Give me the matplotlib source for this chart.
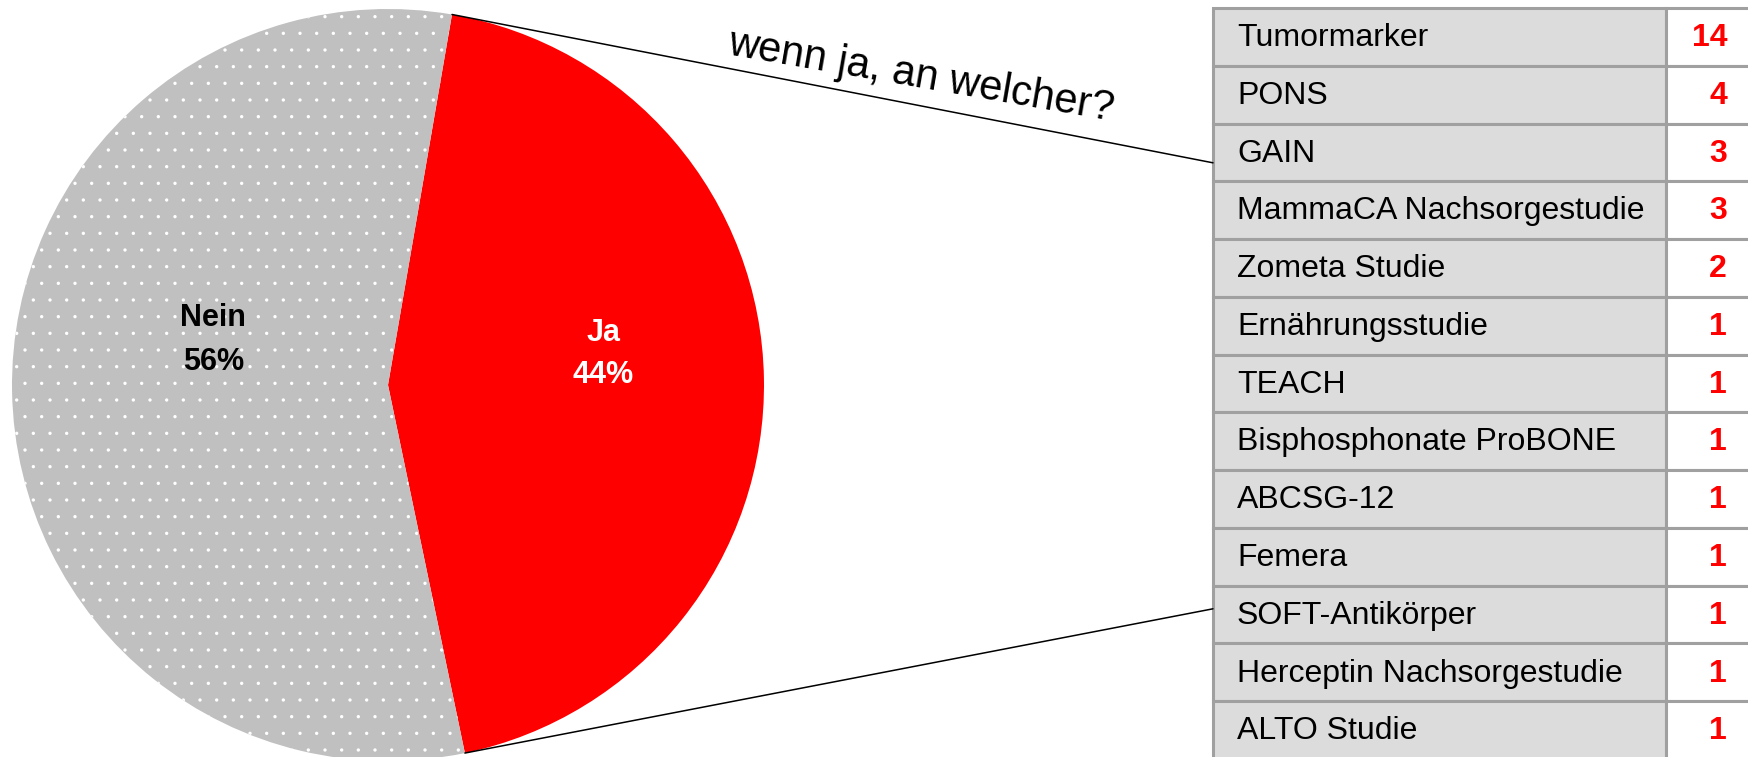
import matplotlib
matplotlib.use("Agg")
import matplotlib.pyplot as plt
import numpy as np
from matplotlib.patches import Rectangle, ConnectionPatch

plt.rcParams["font.family"] = ["Liberation Sans", "DejaVu Sans"]
plt.rcParams["hatch.linewidth"] = 0.0

# pie: share of respondents taking part in a study
pie_labels = ["Ja", "Nein"]
pie_values = [44, 56]
pie_colors = ["#FF0000", "#C0C0C0"]

# breakdown for "Ja"
studies = [
    "Tumormarker", "PONS", "GAIN", "MammaCA Nachsorgestudie", "Zometa Studie",
    "Ernährungsstudie", "TEACH", "Bisphosphonate ProBONE", "ABCSG-12", "Femera",
    "SOFT-Antikörper", "Herceptin Nachsorgestudie", "ALTO Studie",
]
counts = [14, 4, 3, 3, 2, 1, 1, 1, 1, 1, 1, 1, 1]

W, H = 1748, 757
fig = plt.figure(figsize=(W / 100, H / 100), dpi=100)

# --- pie -------------------------------------------------------------
cx, cy, r = 388, 385, 376
ax = fig.add_axes([(cx - r) / W, (H - cy - r) / H, 2 * r / W, 2 * r / H])
wedges, _ = ax.pie(pie_values, colors=pie_colors, startangle=80.2,
                   counterclock=False, radius=1.0,
                   wedgeprops=dict(linewidth=0))
wedges[1].set_hatch(".")
wedges[1].set_edgecolor("white")
wedges[1].set_linewidth(0)
ax.set_xlim(-1, 1)
ax.set_ylim(-1, 1)
ax.set_aspect("equal")
ax.axis("off")

ax.text(0.572, 0.082, f"{pie_labels[0]}\n{pie_values[0]}%", color="white",
        fontsize=22, fontweight="bold", ha="center", va="center", linespacing=1.55)
ax.text(-0.465, 0.12, f"{pie_labels[1]}\n{pie_values[1]}%", color="black",
        fontsize=22, fontweight="bold", ha="center", va="center", linespacing=1.6)

# --- table -----------------------------------------------------------
tx0, ty0, tx1, ty1 = 1213, 8, 1752, 759
tax = fig.add_axes([tx0 / W, (H - ty1) / H, (tx1 - tx0) / W, (ty1 - ty0) / H])
n = len(studies)
label_w = 453
tax.set_xlim(0, tx1 - tx0)
tax.set_ylim(n, 0)
tax.axis("off")

border = "#A0A0A0"
for i, (name, c) in enumerate(zip(studies, counts)):
    tax.add_patch(Rectangle((0, i), label_w, 1, facecolor="#DCDCDC",
                            edgecolor=border, linewidth=2.2, clip_on=False))
    tax.add_patch(Rectangle((label_w, i), tx1 - tx0 - label_w, 1, facecolor="white",
                            edgecolor=border, linewidth=2.2, clip_on=False))
    tax.text(24, i + 0.52, name, fontsize=23, ha="left", va="center", color="black")
    tax.text(514, i + 0.52, str(c), fontsize=23, fontweight="bold",
             ha="right", va="center", color="#FF0000")

# --- connectors ------------------------------------------------------
ja = wedges[0]
for ang, row_y in [(ja.theta2, 2.68), (ja.theta1, 10.4)]:
    t = np.deg2rad(ang)
    con = ConnectionPatch(xyA=(np.cos(t), np.sin(t)), coordsA=ax.transData,
                          xyB=(0, row_y), coordsB=tax.transData,
                          color="black", linewidth=1.1)
    fig.add_artist(con)

fig.text(921 / W, 1 - 77 / H, "wenn ja, an welcher?", fontsize=30,
         rotation=-9.8, rotation_mode="anchor", ha="center", va="center")

fig.savefig("out.png", dpi=100)
